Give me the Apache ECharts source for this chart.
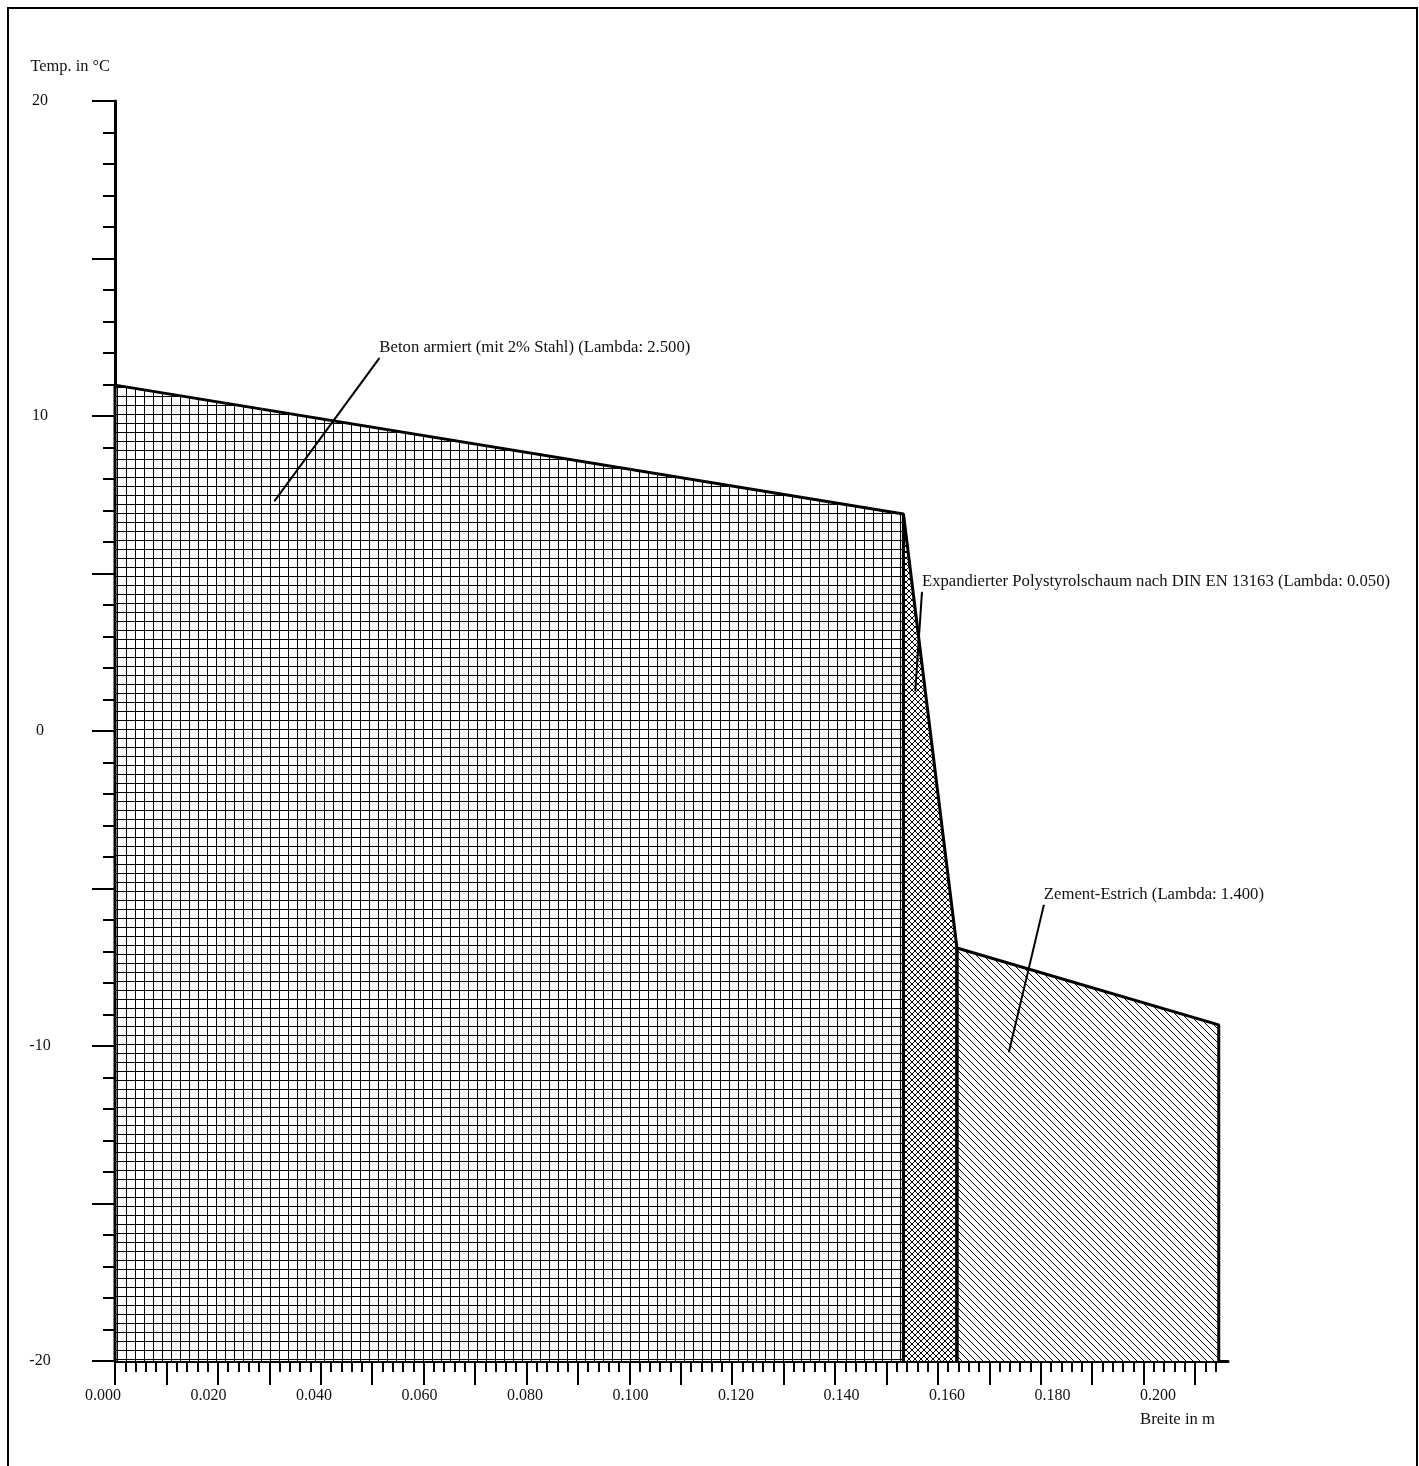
<!DOCTYPE html>
<html>
<head>
<meta charset="utf-8">
<script src="https://cdn.jsdelivr.net/npm/echarts@6/dist/echarts.min.js"></script>
<style>
  html, body { margin: 0; padding: 0; background: #fff; overflow: hidden; }
  #chart { width: 1419px; height: 1466px; }
</style>
</head>
<body>
<div id="chart"></div>
<script>
// layers: [x, temp] outline points, closed down to -20 by the area
const betonPts = [[0, -20], [0, 10.98], [0.1533, 6.89], [0.1533, -20]];
const epsPts = [[0.1533, -20], [0.1533, 6.89], [0.1637, -6.89], [0.1637, -20]];
const estrichPts = [[0.1637, -20], [0.1637, -6.89], [0.2146, -9.33], [0.2146, -20]];

const layerNames = [
  'Beton armiert (mit 2% Stahl) (Lambda: 2.500)',
  'Expandierter Polystyrolschaum nach DIN EN 13163 (Lambda: 0.050)',
  'Zement-Estrich (Lambda: 1.400)'
];
// leader lines: [top(label) point, bottom point] in data units
const leaders = [
  [[0.0514, 11.84], [0.0310, 7.30]],
  [[0.1569, 4.41], [0.1556, 1.27]],
  [[0.1806, -5.52], [0.1738, -10.19]]
];

const xLabels = [0, 0.02, 0.04, 0.06, 0.08, 0.10, 0.12, 0.14, 0.16, 0.18, 0.20];
const yLabels = [-20, -10, 0, 10, 20];

let xMinor = [];
for (let i = 0; i <= 107; i++) xMinor.push(i * 2 / 1000);
let xMajor = [];
for (let i = 0; i <= 21; i++) xMajor.push(i / 100);

const font = 'Liberation Serif';

function pattern(size, draw) {
  const c = document.createElement('canvas');
  c.width = size; c.height = size;
  const ctx = c.getContext('2d');
  ctx.fillStyle = '#fff';
  ctx.fillRect(0, 0, size, size);
  ctx.strokeStyle = '#000';
  ctx.lineWidth = 1;
  draw(ctx, size);
  return { image: c, repeat: 'repeat' };
}

const gridFill = pattern(9, (ctx, s) => {
  ctx.beginPath();
  ctx.moveTo(0.5, 0); ctx.lineTo(0.5, s);
  ctx.moveTo(0, 0.5); ctx.lineTo(s, 0.5);
  ctx.stroke();
});
const crossFill = pattern(6, (ctx, s) => {
  ctx.beginPath();
  ctx.moveTo(-1, -1); ctx.lineTo(s + 1, s + 1);
  ctx.moveTo(s + 1, -1); ctx.lineTo(-1, s + 1);
  ctx.stroke();
});
const diagFill = pattern(7, (ctx, s) => {
  ctx.beginPath();
  ctx.moveTo(-1, -1); ctx.lineTo(s + 1, s + 1);
  ctx.moveTo(-1, s - 1); ctx.lineTo(1, s + 1);
  ctx.moveTo(s - 1, -1); ctx.lineTo(s + 1, 1);
  ctx.stroke();
});

const chart = echarts.init(document.getElementById('chart'));

function layer(name, pts, fill) {
  return {
    name: name,
    type: 'line',
    data: pts,
    showSymbol: false,
    symbol: 'none',
    silent: true,
    clip: false,
    z: 2,
    lineStyle: { color: '#000', width: 3 },
    areaStyle: { origin: 'start', color: fill, opacity: 1 }
  };
}

function leader(i) {
  const top = leaders[i][0], bot = leaders[i][1];
  return {
    type: 'line',
    data: [
      {
        value: top,
        label: {
          show: true, position: 'top', align: 'left', distance: 1,
          formatter: layerNames[i],
          fontFamily: font, fontSize: 16.7, color: '#111'
        }
      },
      { value: bot, label: { show: false } }
    ],
    symbol: 'circle',
    symbolSize: 1,
    showSymbol: true,
    itemStyle: { color: '#000' },
    silent: true,
    z: 5,
    lineStyle: { color: '#000', width: 2 }
  };
}

let option = {
  animation: false,
  backgroundColor: '#fff',
  title: [{
    text: 'Breite in m',
    left: 1135, top: 1406,
    textStyle: { fontFamily: font, fontSize: 16.7, fontWeight: 'normal', color: '#111' }
  }],
  graphic: [{
    type: 'rect',
    shape: { x: 8, y: 8, width: 1409, height: 1500 },
    style: { fill: 'none', stroke: '#000', lineWidth: 2 },
    silent: true
  }],
  grid: [
    { left: 115, top: 101, width: 1113, height: 1260 },
    // label strip: the printed numbers run slightly wider than the ticks
    { left: 103, top: 101, width: 1055, height: 1260 }
  ],
  xAxis: [
    {
      // main axis with the short ticks
      type: 'value', min: 0, max: 0.2164, position: 'bottom',
      axisLine: { onZero: false, lineStyle: { color: '#000', width: 3 } },
      axisTick: { customValues: xMinor, length: 11, lineStyle: { color: '#000', width: 2 } },
      axisLabel: { show: false },
      splitLine: { show: false }
    },
    {
      // long ticks every 0.010
      type: 'value', min: 0, max: 0.2164, position: 'bottom',
      axisLine: { show: false, onZero: false },
      axisTick: { customValues: xMajor, length: 24, lineStyle: { color: '#000', width: 2 } },
      axisLabel: { show: false },
      splitLine: { show: false }
    },
    {
      // tick labels
      type: 'value', gridIndex: 1, min: 0, max: 0.2, interval: 0.02, position: 'bottom',
      axisLine: { show: false, onZero: false },
      axisTick: { show: false },
      axisLabel: {
        margin: 27,
        fontFamily: font, fontSize: 16, color: '#111',
        formatter: v => v.toFixed(3)
      },
      splitLine: { show: false }
    }
  ],
  yAxis: [
    {
      type: 'value', min: -20, max: 20, interval: 5,
      name: 'Temp. in °C', nameLocation: 'end', nameGap: 34,
      nameTextStyle: { fontFamily: font, fontSize: 16.4, color: '#111', align: 'right', verticalAlign: 'middle', padding: [0, 5, 0, 0] },
      axisLine: { onZero: false, lineStyle: { color: '#000', width: 3 } },
      axisTick: { length: 23, lineStyle: { color: '#000', width: 2 } },
      minorTick: { show: true, splitNumber: 5, length: 12, lineStyle: { color: '#000', width: 2 } },
      axisLabel: {
        margin: 75, align: 'center',
        fontFamily: font, fontSize: 16, color: '#111',
        formatter: v => (yLabels.indexOf(v) >= 0 ? String(v) : '')
      },
      splitLine: { show: false },
      minorSplitLine: { show: false }
    },
    {
      type: 'value', gridIndex: 1, min: -20, max: 20, show: false
    }
  ],
  series: [
    layer(layerNames[0], betonPts, gridFill),
    layer(layerNames[1], epsPts, crossFill),
    layer(layerNames[2], estrichPts, diagFill),
    leader(0),
    leader(1),
    leader(2)
  ]
};

chart.setOption(option);
</script>
</body>
</html>
